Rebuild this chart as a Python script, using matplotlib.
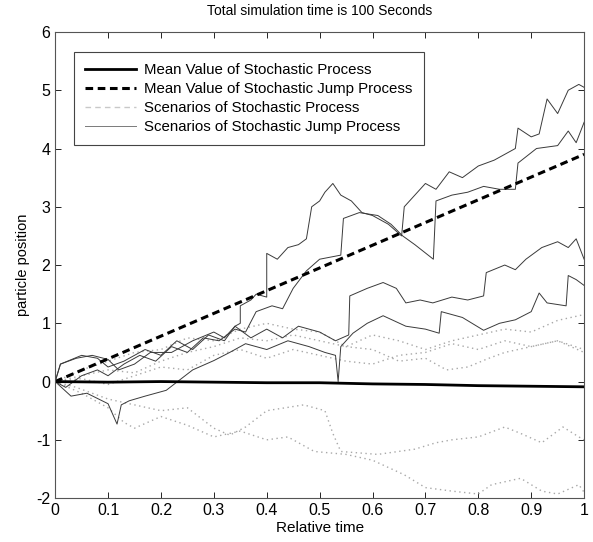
import numpy as np
import matplotlib
matplotlib.use("Agg")
import matplotlib.pyplot as plt

plt.rcParams["font.family"] = ["Liberation Sans", "DejaVu Sans"]
plt.rcParams["axes.unicode_minus"] = False

# mean curves
mean_x = [0, 0.1, 0.2, 0.3, 0.4, 0.5, 0.6, 0.7, 0.75, 0.8, 0.9, 1.0]
mean_y = [0, -0.01, 0.0, -0.01, -0.02, -0.02, -0.04, -0.05, -0.06, -0.07, -0.08, -0.09]
jump_mean_x = [0, 1.0]
jump_mean_y = [0, 3.9]

# scenarios of the stochastic jump process (thin solid)
j1_x = [0, 0.01, 0.04, 0.07, 0.1, 0.12, 0.15, 0.18, 0.22, 0.26, 0.3, 0.32, 0.34, 0.35, 0.35, 0.37,
        0.38, 0.4, 0.4, 0.42, 0.44, 0.46, 0.475, 0.485, 0.5, 0.51, 0.525, 0.54, 0.56, 0.58, 0.6,
        0.63, 0.655, 0.66, 0.68, 0.7, 0.72, 0.745, 0.77, 0.8, 0.83, 0.85, 0.87, 0.875, 0.9, 0.915,
        0.93, 0.95, 0.97, 0.99, 1.0]
j1_y = [0, 0.3, 0.4, 0.45, 0.38, 0.2, 0.3, 0.5, 0.5, 0.7, 0.85, 0.75, 0.95, 1.0, 1.3, 1.4,
        1.5, 1.45, 2.2, 2.1, 2.3, 2.35, 2.45, 3.0, 3.1, 3.25, 3.4, 3.2, 3.1, 2.9, 2.85,
        2.7, 2.5, 3.0, 3.2, 3.4, 3.3, 3.6, 3.5, 3.7, 3.8, 3.9, 4.0, 4.35, 4.2, 4.25,
        4.85, 4.6, 5.0, 5.1, 5.05]
j2_x = [0, 0.02, 0.05, 0.08, 0.1, 0.13, 0.16, 0.19, 0.22, 0.25, 0.28, 0.31, 0.34, 0.36, 0.38,
        0.41, 0.43, 0.45, 0.475, 0.5, 0.54, 0.545, 0.575, 0.61, 0.635, 0.657, 0.68, 0.715, 0.72,
        0.75, 0.78, 0.81, 0.84, 0.87, 0.875, 0.91, 0.95, 0.97, 0.985, 1.0]
j2_y = [0, -0.1, 0.1, 0.2, 0.1, 0.3, 0.45, 0.35, 0.6, 0.5, 0.75, 0.7, 0.9, 0.85, 1.2,
        1.3, 1.25, 1.6, 1.9, 2.1, 2.17, 2.8, 2.9, 2.85, 2.7, 2.5, 2.35, 2.1, 3.1,
        3.2, 3.25, 3.35, 3.3, 3.3, 3.75, 4.0, 4.05, 4.3, 4.1, 4.45]
j3_x = [0, 0.01, 0.05, 0.08, 0.1, 0.13, 0.17, 0.2, 0.23, 0.26, 0.29, 0.32, 0.34, 0.37, 0.4,
        0.43, 0.46, 0.5, 0.53, 0.555, 0.557, 0.59, 0.62, 0.645, 0.663, 0.69, 0.714, 0.75, 0.78,
        0.81, 0.815, 0.85, 0.87, 0.89, 0.92, 0.95, 0.97, 0.985, 1.0]
j3_y = [0, 0.3, 0.45, 0.4, 0.25, 0.35, 0.55, 0.45, 0.7, 0.55, 0.8, 0.7, 0.95, 0.75, 0.9,
        0.75, 0.95, 0.85, 0.7, 0.8, 1.47, 1.6, 1.7, 1.6, 1.35, 1.4, 1.35, 1.45, 1.4,
        1.47, 1.87, 2.0, 1.92, 2.1, 2.3, 2.4, 2.3, 2.45, 2.1]
j4_x = [0, 0.03, 0.06, 0.1, 0.117, 0.125, 0.14, 0.17, 0.21, 0.26, 0.3, 0.33, 0.36, 0.4, 0.44,
        0.48, 0.51, 0.53, 0.535, 0.54, 0.563, 0.59, 0.62, 0.663, 0.7, 0.726, 0.73, 0.77, 0.81,
        0.84, 0.87, 0.9, 0.915, 0.93, 0.966, 0.97, 0.985, 1.0]
j4_y = [0, -0.25, -0.2, -0.38, -0.73, -0.4, -0.33, -0.25, -0.15, 0.2, 0.36, 0.5, 0.65, 0.55, 0.7,
        0.6, 0.5, 0.45, 0.0, 0.6, 0.83, 1.0, 1.13, 0.95, 0.9, 0.83, 1.2, 1.1, 0.88,
        1.0, 1.06, 1.2, 1.52, 1.35, 1.3, 1.82, 1.75, 1.65]

# scenarios of the stochastic process (light, dotted)
s1_x = [0, 0.04, 0.1, 0.15, 0.2, 0.25, 0.3, 0.33, 0.36, 0.4, 0.47, 0.51, 0.525, 0.54, 0.61,
        0.68, 0.72, 0.75, 0.8, 0.85, 0.88, 0.92, 0.96, 0.99, 1.0]
s1_y = [0, -0.1, -0.3, -0.4, -0.5, -0.45, -0.8, -0.92, -0.78, -0.5, -0.4, -0.5, -0.89, -1.2, -1.25,
        -1.16, -1.05, -1.0, -0.95, -0.78, -0.89, -1.05, -0.78, -0.95, -1.0]
s2_x = [0, 0.05, 0.1, 0.13, 0.15, 0.2, 0.25, 0.3, 0.35, 0.4, 0.44, 0.49, 0.55, 0.6, 0.66,
        0.7, 0.75, 0.8, 0.825, 0.88, 0.92, 0.95, 0.99, 1.0]
s2_y = [0, -0.2, -0.45, -0.7, -0.8, -0.6, -0.75, -0.95, -0.85, -1.0, -0.95, -1.2, -1.25, -1.35, -1.6,
        -1.82, -1.88, -1.93, -1.77, -1.66, -1.88, -1.93, -1.77, -1.9]
s3_x = [0, 0.05, 0.1, 0.15, 0.2, 0.25, 0.3, 0.35, 0.4, 0.45, 0.5, 0.55, 0.6, 0.65, 0.7,
        0.75, 0.8, 0.85, 0.9, 0.95, 1.0]
s3_y = [0, 0.1, 0.2, 0.15, 0.35, 0.5, 0.6, 0.75, 0.7, 0.8, 0.7, 0.6, 0.8, 0.7, 0.55,
        0.7, 0.8, 0.9, 0.85, 1.05, 1.15]
s4_x = [0, 0.05, 0.1, 0.15, 0.2, 0.25, 0.3, 0.35, 0.4, 0.45, 0.5, 0.55, 0.6, 0.65, 0.7,
        0.75, 0.8, 0.85, 0.9, 0.95, 1.0]
s4_y = [0, 0.05, -0.05, 0.1, 0.25, 0.2, 0.45, 0.55, 0.4, 0.55, 0.45, 0.35, 0.3, 0.45, 0.5,
        0.65, 0.55, 0.7, 0.6, 0.7, 0.55]
s5_x = [0, 0.05, 0.1, 0.15, 0.2, 0.25, 0.3, 0.35, 0.4, 0.45, 0.5, 0.55, 0.6, 0.65, 0.7,
        0.74, 0.78, 0.82, 0.85, 0.9, 0.95, 1.0]
s5_y = [0, 0.2, 0.35, 0.5, 0.55, 0.75, 0.7, 0.9, 1.0, 0.9, 0.85, 0.6, 0.55, 0.35, 0.4,
        0.2, 0.25, 0.4, 0.5, 0.6, 0.7, 0.5]

x_ticks = [0, 0.1, 0.2, 0.3, 0.4, 0.5, 0.6, 0.7, 0.8, 0.9, 1]
x_tick_labels = ["0", "0.1", "0.2", "0.3", "0.4", "0.5", "0.6", "0.7", "0.8", "0.9", "1"]
y_ticks = [-2, -1, 0, 1, 2, 3, 4, 5, 6]

fig = plt.figure(figsize=(5.93, 5.42), dpi=100)
ax = fig.add_axes([0.093, 0.081, 0.892, 0.86])

jump_color = "#3a3a3a"
stoch_color = "#a8a8a8"

for xs, ys in [(s1_x, s1_y), (s2_x, s2_y), (s3_x, s3_y), (s4_x, s4_y), (s5_x, s5_y)]:
    ax.plot(xs, ys, color=stoch_color, lw=1.0, ls=(0, (1, 2.5)))
for xs, ys in [(j1_x, j1_y), (j2_x, j2_y), (j3_x, j3_y), (j4_x, j4_y)]:
    ax.plot(xs, ys, color=jump_color, lw=0.7)

h1, = ax.plot(mean_x, mean_y, color="black", lw=2.0)
h2, = ax.plot(jump_mean_x, jump_mean_y, color="black", lw=2.2, ls=(0, (2.5, 1.5)))
h3, = ax.plot([], [], color="#c8c8c8", lw=1.0, ls=(0, (4, 3)))
h4, = ax.plot([], [], color="#7a7a7a", lw=0.7)

leg = ax.legend([h1, h2, h3, h4],
                ["Mean Value of Stochastic Process", "Mean Value of Stochastic Jump Process",
                 "Scenarios of Stochastic Process", "Scenarios of Stochastic Jump Process"],
                loc="upper left", bbox_to_anchor=(0.036, 0.957), fontsize=10.8,
                handlelength=3.4, fancybox=False, framealpha=1, edgecolor="#444444",
                borderpad=0.75, labelspacing=0.33, handletextpad=0.5, borderaxespad=0)
leg.get_frame().set_linewidth(0.8)

ax.set_xlim(0, 1)
ax.set_ylim(-2, 6)
ax.set_xticks(x_ticks)
ax.set_xticklabels(x_tick_labels)
ax.set_yticks(y_ticks)
ax.tick_params(direction="in", top=True, right=True, labelsize=11.5, length=4, width=0.6)
for s in ax.spines.values():
    s.set_linewidth(0.8)
    s.set_color("#555555")

ax.set_title("Total simulation time is 100 Seconds", fontsize=10, pad=12)
ax.set_xlabel("Relative time", fontsize=11, labelpad=2)
ax.set_ylabel("particle position", fontsize=10.5, labelpad=4)

plt.savefig("out.png", dpi=100)
